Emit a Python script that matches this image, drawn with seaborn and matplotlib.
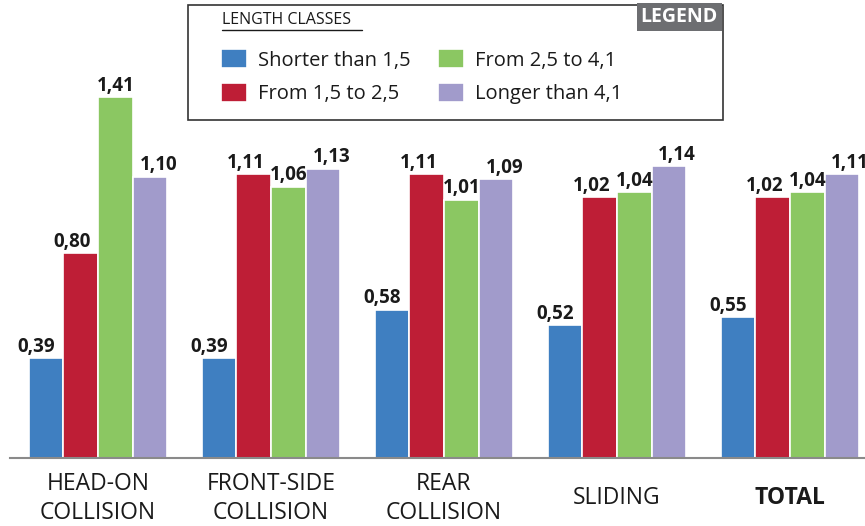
import pandas as pd
import seaborn as sns
import matplotlib.pyplot as plt
from matplotlib.patches import Rectangle

# chart data
collisions = ["HEAD-ON\nCOLLISION", "FRONT-SIDE\nCOLLISION", "REAR\nCOLLISION", "SLIDING", "TOTAL"]
length_classes = ["Shorter than 1,5", "From 1,5 to 2,5", "From 2,5 to 4,1", "Longer than 4,1"]
shorter_15 = [0.39, 0.39, 0.58, 0.52, 0.55]
from_15_25 = [0.80, 1.11, 1.11, 1.02, 1.02]
from_25_41 = [1.41, 1.06, 1.01, 1.04, 1.04]
longer_41 = [1.10, 1.13, 1.09, 1.14, 1.11]
colors = ["#3f7fc1", "#be1e36", "#8bc762", "#a19bcb"]

series = [shorter_15, from_15_25, from_25_41, longer_41]
rows = []
for cls, vals in zip(length_classes, series):
    for col, v in zip(collisions, vals):
        rows.append({"collision": col, "value": v, "cls": cls})
df = pd.DataFrame(rows)

sns.set_style("white")
plt.rcParams["font.family"] = ["Open Sans", "DejaVu Sans"]

fig = plt.figure(figsize=(8.65, 5.26), dpi=100)
W, H = 865, 526
ax = fig.add_axes([10 / W, 68 / H, 855 / W, 458 / H])

sns.barplot(
    data=df, x="collision", y="value", hue="cls",
    hue_order=length_classes, palette=colors, saturation=1,
    width=0.8, edgecolor="white", linewidth=1.2, ax=ax
)
handles, labels = ax.get_legend_handles_labels()
ax.get_legend().remove()

ax.set_xlim(-0.509, 4.434)
ax.set_ylim(0, 1.79)
ax.set_xlabel("")
ax.set_ylabel("")
ax.set_yticks([])
for s in ["top", "left", "right"]:
    ax.spines[s].set_visible(False)
ax.spines["bottom"].set_color("#8a8a8a")
ax.spines["bottom"].set_linewidth(1.5)

# category labels, vertically centred below the axis
ax.tick_params(axis="x", length=0, pad=29)
ax.set_xticks(range(len(collisions)))
ax.set_xticklabels(collisions, fontsize=16.5, va="center", linespacing=1.3,
                   color="#1a1a1a")
ax.get_xticklabels()[-1].set_fontweight("bold")

# value labels
offsets = [-7, -6, 0, 6]
for container, dx in zip(ax.containers, offsets):
    for bar in container:
        h = bar.get_height()
        ax.annotate(f"{h:.2f}".replace(".", ","),
                    xy=(bar.get_x() + bar.get_width() / 2, h),
                    xytext=(dx, 1), textcoords="offset points",
                    ha="center", va="bottom", fontsize=13.5,
                    fontweight="bold", color="#1a1a1a")

# legend box
fig.add_artist(Rectangle((188 / W, 1 - 120 / H), 535 / W, 115 / H,
                         transform=fig.transFigure, fill=False,
                         edgecolor="#333333", linewidth=1.2))
fig.text(718 / W, 1 - 17 / H, "LEGEND", ha="right", va="center",
         fontsize=14, fontweight="bold", color="white",
         bbox=dict(boxstyle="square,pad=0.2", facecolor="#6d6e71", edgecolor="none"))
fig.text(222 / W, 1 - 20 / H, "LENGTH CLASSES", ha="left", va="center",
         fontsize=11.5, color="#1a1a1a")
fig.add_artist(plt.Line2D([222 / W, 362 / W], [1 - 30 / H, 1 - 30 / H],
                          transform=fig.transFigure, color="#1a1a1a", linewidth=1))

fig.legend(handles, labels, ncol=2, loc="upper left",
           bbox_to_anchor=(211 / W, 1 - 39 / H), bbox_transform=fig.transFigure,
           frameon=False, fontsize=14.5, handlelength=1.3, handleheight=1.1,
           handletextpad=0.55, columnspacing=1.35, labelspacing=0.6,
           borderpad=0, labelcolor="#1a1a1a")

fig.savefig("out.png", dpi=100)
